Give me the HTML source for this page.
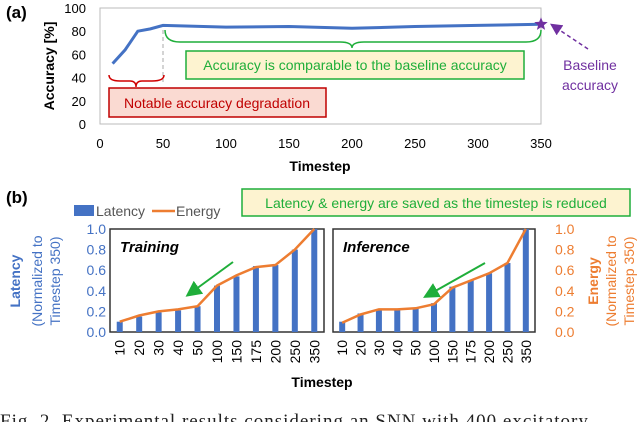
<!DOCTYPE html>
<html><head><meta charset="utf-8"><style>
body{margin:0;background:#fff;width:640px;height:422px;overflow:hidden;font-family:"Liberation Sans",sans-serif}
svg{display:block}
</style></head><body>
<svg id="fig" width="640" height="422" font-family="Liberation Sans, sans-serif">
<defs>
<marker id="ag" markerWidth="8" markerHeight="8" refX="4" refY="4" orient="auto"><path d="M0,0L8,4L0,8z" fill="#1fae3a"/></marker>
<marker id="ap" markerWidth="8" markerHeight="8" refX="4" refY="4" orient="auto"><path d="M0,0L8,4L0,8z" fill="#7030a0"/></marker>
</defs>
<text x="6" y="18" font-size="17" font-weight="bold">(a)</text>
<rect x="100" y="8" width="441" height="116" fill="none" stroke="#bbb"/>
<g id="aAxes"></g>
<text transform="translate(54,66) rotate(-90)" text-anchor="middle" font-size="14" font-weight="bold">Accuracy [%]</text>
<text x="320" y="171" text-anchor="middle" font-size="14" font-weight="bold">Timestep</text>
<line x1="163" y1="30" x2="163" y2="82" stroke="#aaa" stroke-dasharray="4,3"/>
<path d="M165,30 Q165,42 180,42 L340,42 Q352,42 352,48 Q352,42 364,42 L526,42 Q541,42 541,30" fill="none" stroke="#1fae3a" stroke-width="1.5"/>
<rect x="186" y="51" width="338" height="28" fill="#fdf3d0" stroke="#1fae3a" stroke-width="1.5"/>
<text x="355" y="70" text-anchor="middle" font-size="14" fill="#1fae3a">Accuracy is comparable to the baseline accuracy</text>
<path d="M109,75 Q109,81 120,81 L130,81 Q136,81 136,87 Q136,81 142,81 L152,81 Q164,81 164,75" fill="none" stroke="#d00000" stroke-width="1.5"/>
<rect x="109" y="88" width="217" height="29" fill="#fadad2" stroke="#c00000" stroke-width="1.5"/>
<text x="217" y="108" text-anchor="middle" font-size="14" fill="#c00000">Notable accuracy degradation</text>
<text x="590" y="70" text-anchor="middle" font-size="14" fill="#7030a0">Baseline</text>
<text x="590" y="90" text-anchor="middle" font-size="14" fill="#7030a0">accuracy</text>
<line x1="588" y1="49" x2="555" y2="27" stroke="#7030a0" stroke-width="1.5" stroke-dasharray="4,3" marker-end="url(#ap)"/>
<g id="aPlot"></g>

<text x="6" y="203" font-size="17" font-weight="bold">(b)</text>
<rect x="74" y="205" width="20" height="11" fill="#4472c4"/>
<text x="96" y="216" font-size="14" fill="#555">Latency</text>
<line x1="152" y1="211" x2="175" y2="211" stroke="#ed7d31" stroke-width="2.5"/>
<text x="176" y="216" font-size="14" fill="#555">Energy</text>
<rect x="242" y="189" width="388" height="27" fill="#fdf3d0" stroke="#1fae3a" stroke-width="1.5"/>
<text x="436" y="208" text-anchor="middle" font-size="14" fill="#1fae3a">Latency &amp; energy are saved as the timestep is reduced</text>
<g font-size="14" text-anchor="middle">
<text transform="translate(20,281) rotate(-90)" font-weight="bold" fill="#4472c4">Latency</text>
<text transform="translate(42,281) rotate(-90)" fill="#4472c4">(Normalized to</text>
<text transform="translate(60,281) rotate(-90)" fill="#4472c4">Timestep 350)</text>
<text transform="translate(598,281) rotate(-90)" font-weight="bold" fill="#ed7d31">Energy</text>
<text transform="translate(616,281) rotate(-90)" fill="#ed7d31">(Normalized to</text>
<text transform="translate(634,281) rotate(-90)" fill="#ed7d31">Timestep 350)</text>
</g>
<text x="322" y="387" text-anchor="middle" font-size="14" font-weight="bold">Timestep</text>
<g id="bPlot"></g>
<text x="0" y="427" font-family="Liberation Serif, serif" font-size="19" letter-spacing="1" fill="#222">Fig. 2.    Experimental results considering an SNN with 400 excitatory</text>
</svg>
<script>
const accX=[10,20,30,40,50,100,150,200,250,300,350];
const accY=[52,64,80,82,85,83.5,84,82.5,84,85,86];
const accXTicks=[0,50,100,150,200,250,300,350];
const accYTicks=[0,20,40,60,80,100];
const cats=["10","20","30","40","50","100","150","175","200","250","350"];
const trainLatency=[0.1,0.15,0.19,0.21,0.25,0.45,0.54,0.64,0.65,0.8,1.0];
const trainEnergy=[0.1,0.16,0.2,0.22,0.25,0.45,0.55,0.63,0.65,0.8,1.0];
const infLatency=[0.1,0.18,0.22,0.22,0.23,0.28,0.44,0.5,0.57,0.67,1.0];
const infEnergy=[0.09,0.17,0.22,0.22,0.23,0.27,0.43,0.5,0.57,0.67,1.0];
const bTicks=["0.0","0.2","0.4","0.6","0.8","1.0"];
const NS="http://www.w3.org/2000/svg";
function mk(tag,attrs,parent,txt){const e=document.createElementNS(NS,tag);for(const k in attrs)e.setAttribute(k,attrs[k]);if(txt!==undefined)e.textContent=txt;parent.appendChild(e);return e;}
const ax=v=>100+v/350*441, ay=v=>124-v/100*116;
const aA=document.getElementById('aAxes');
accXTicks.forEach(t=>{const e=mk('text',{x:ax(t),y:148,'text-anchor':'middle','font-size':13},aA,t);

});
accYTicks.forEach(t=>{const e=mk('text',{x:86,y:ay(t)+5,'text-anchor':'end','font-size':13},aA,t);

});
const aP=document.getElementById('aPlot');
const al=mk('polyline',{points:accX.map((x,i)=>ax(x)+','+ay(accY[i])).join(' '),fill:'none',stroke:'#4472c4','stroke-width':3},aP);


const sx=ax(accX[accX.length-1]),sy=ay(accY[accY.length-1]);let pts=[];
for(let i=0;i<10;i++){const r=i%2?3:7,a=-Math.PI/2+i*Math.PI/5;pts.push((sx+r*Math.cos(a)).toFixed(1)+','+(sy+r*Math.sin(a)).toFixed(1));}
const st=mk('polygon',{points:pts.join(' '),fill:'#7030a0'},aP);


const bP=document.getElementById('bPlot');
const by=v=>332-v*103;
bTicks.forEach(t=>{const v=parseFloat(t);
const l=mk('text',{x:106,y:by(v)+5,'text-anchor':'end','font-size':14,fill:'#4472c4'},bP,t);


const r=mk('text',{x:555,y:by(v)+5,'font-size':14,fill:'#ed7d31'},bP,t);

});
function panel(x0,x1,lat,en,title,name,arrow){
 const f=mk('rect',{x:x0,y:229,width:x1-x0,height:103,fill:'none',stroke:'#333','stroke-width':1.5},bP);
 
 
 const n=cats.length,slot=(x1-x0)/n,cx=i=>x0+slot*(i+0.5);
 lat.forEach((v,i)=>{const b=mk('rect',{x:cx(i)-3,y:by(v),width:6,height:332-by(v),fill:'#4472c4'},bP);
 
 
 const t=mk('text',{transform:`translate(${cx(i)+5},340) rotate(-90)`,'text-anchor':'end','font-size':14},bP,cats[i]);
 
 });
 const pl=mk('polyline',{points:en.map((v,i)=>cx(i)+','+by(v)).join(' '),fill:'none',stroke:'#ed7d31','stroke-width':2.5},bP);
 
 
 const tt=mk('text',{x:x0+10,y:252,'font-size':15,'font-weight':'bold','font-style':'italic'},bP,title);
 
 
 const ar=mk('line',{x1:arrow[0],y1:arrow[1],x2:arrow[2],y2:arrow[3],stroke:'#1fae3a','stroke-width':2,'marker-end':'url(#ag)'},bP);
 
 
}
panel(110,324,trainLatency,trainEnergy,'Training','training',[233,262,192,292]);
panel(333,535,infLatency,infEnergy,'Inference','inference',[485,263,430,294]);
</script>
</body></html>
